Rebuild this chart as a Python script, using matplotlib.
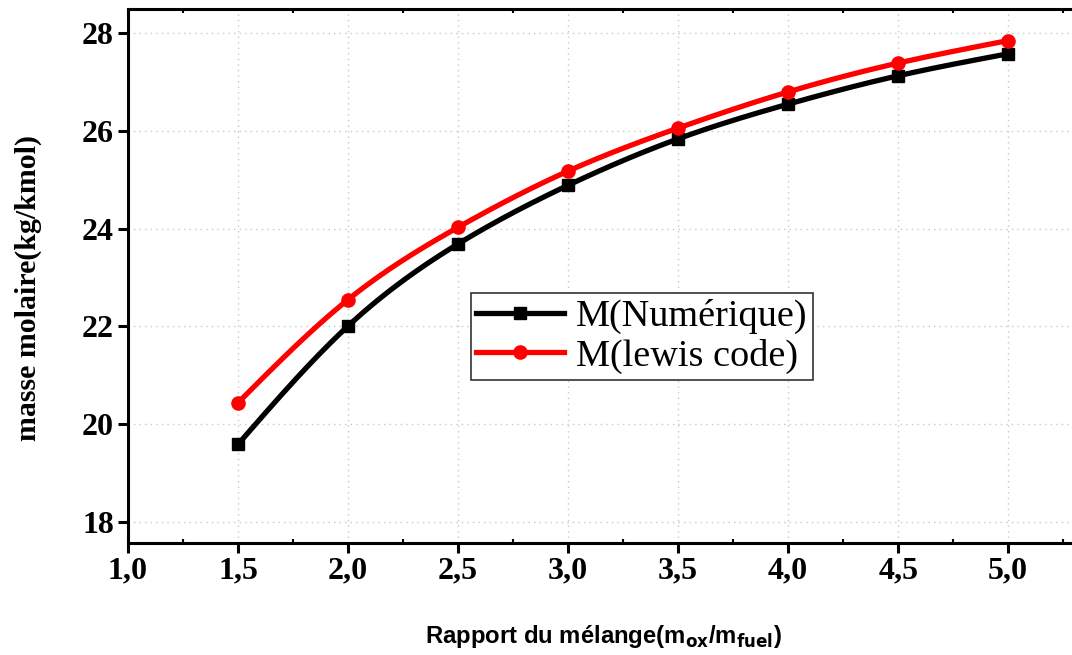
import numpy as np
import matplotlib.pyplot as plt
from matplotlib.ticker import MultipleLocator, FuncFormatter

# rapport de mélange et masse molaire
ratio = [1.5, 2.0, 2.5, 3.0, 3.5, 4.0, 4.5, 5.0]
m_num = [19.59, 22.01, 23.69, 24.89, 25.84, 26.55, 27.13, 27.58]
m_lewis = [20.44, 22.55, 24.03, 25.18, 26.06, 26.80, 27.39, 27.85]
labels = ['M(Numérique)', 'M(lewis code)']


def spline(x, y, n=200):
    # cubic spline naturelle, seulement pour tracer la courbe lisse
    x = np.asarray(x, float); y = np.asarray(y, float)
    k = len(x); h = np.diff(x)
    A = np.zeros((k, k)); b = np.zeros(k)
    A[0, 0] = A[-1, -1] = 1
    for i in range(1, k - 1):
        A[i, i-1] = h[i-1]; A[i, i] = 2*(h[i-1]+h[i]); A[i, i+1] = h[i]
        b[i] = 6*((y[i+1]-y[i])/h[i] - (y[i]-y[i-1])/h[i-1])
    M = np.linalg.solve(A, b)
    xs = np.linspace(x[0], x[-1], n)
    j = np.clip(np.searchsorted(x, xs) - 1, 0, k - 2)
    t1 = x[j+1] - xs; t0 = xs - x[j]
    ys = (M[j]*t1**3 + M[j+1]*t0**3)/(6*h[j]) + (y[j]/h[j] - M[j]*h[j]/6)*t1 + (y[j+1]/h[j] - M[j+1]*h[j]/6)*t0
    return xs, ys


plt.rcParams['font.family'] = 'Liberation Serif'
fig = plt.figure(figsize=(10.72, 6.55), dpi=100)
ax = fig.add_axes([0.1194, 0.171, 0.8806, 0.8148])

for y, c, mk, ms, lab in [(m_num, 'black', 's', 9, labels[0]), (m_lewis, 'red', 'o', 9.5, labels[1])]:
    xs, ys = spline(ratio, y)
    ax.plot(xs, ys, color=c, lw=3.8, zorder=3)
    ax.plot(ratio, y, ls='none', marker=mk, ms=ms, color=c, zorder=4)
    ax.plot([], [], color=c, lw=3.8, marker=mk, ms=ms, label=lab)

ax.set_xlim(1.0, 5.29)
ax.set_ylim(17.57, 28.49)
ax.xaxis.set_major_locator(MultipleLocator(0.5))
ax.xaxis.set_minor_locator(MultipleLocator(0.25))
ax.yaxis.set_major_locator(MultipleLocator(2))
ax.xaxis.set_major_formatter(FuncFormatter(lambda v, p: f'{v:.1f}'.replace('.', ',')))
ax.yaxis.set_major_formatter(FuncFormatter(lambda v, p: f'{v:.0f}'))

ax.grid(True, which='major', ls=(0, (1, 3)), color='#c8c8c8', lw=1)
for s in ['left', 'bottom', 'top']:
    ax.spines[s].set_linewidth(2.2)
ax.spines['right'].set_visible(False)
ax.tick_params(which='major', direction='out', length=7, width=2.2, labelsize=23, pad=3)
ax.tick_params(which='minor', direction='in', length=3, width=1.5, top=True)
for t in ax.get_xticklabels() + ax.get_yticklabels():
    t.set_fontweight('bold')

ax.set_ylabel('masse molaire(kg/kmol)', fontsize=21.5, fontweight='bold')
ax.yaxis.set_label_coords(-0.091, 0.478)
fig.text(0.563, 0.018, r'Rapport du mélange(m$_{\mathbf{ox}}$/m$_{\mathbf{fuel}}$)', fontsize=17.2,
         fontweight='bold', family='Liberation Sans', ha='center', va='baseline')

leg = ax.legend(loc='upper left', bbox_to_anchor=(0.363, 0.468), borderaxespad=0,
                fontsize=27.5, fancybox=False, edgecolor='#333333', framealpha=1,
                handlelength=2.3, handletextpad=0.3, borderpad=0.15, labelspacing=0.12)
leg.get_frame().set_linewidth(1.2)

fig.savefig('out.png', dpi=100)
